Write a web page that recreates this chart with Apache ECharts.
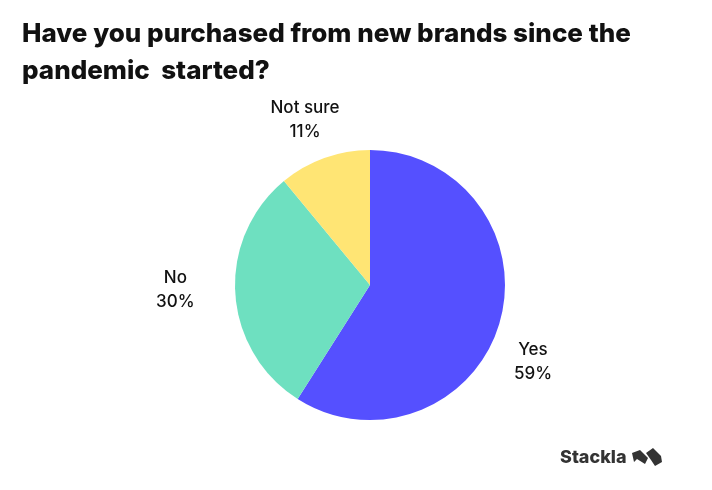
<!DOCTYPE html>
<html><head><meta charset="utf-8">
<script src="https://cdn.jsdelivr.net/npm/echarts@6/dist/echarts.min.js"></script>
<style>html,body{margin:0;padding:0;background:#fff}#c{width:712px;height:490px}</style>
</head><body><div id="c"></div>
<script>
const titleText = 'Have you purchased from new brands since the\npandemic  started?';
const categories = ['Yes', 'No', 'Not sure'];
const values = [59, 30, 11];
const colors = ['#5550FF', '#6EE0C0', '#FFE574'];
const labelOffsets = [[-12, 28], [-13, -6], [0, 1]];

const chart = echarts.init(document.getElementById('c'), null, {renderer: 'canvas'});
chart.setOption({
  backgroundColor: '#fff',
  animation: false,
  title: {
    text: titleText, left: 17, top: 11,
    textStyle: {fontFamily: 'Inter', fontWeight: 800, fontSize: 26, color: '#111', lineHeight: 37}
  },
  graphic: [
    {type: 'text', left: 560, top: 449, style: {text: 'Stackla', fontFamily: 'Inter', fontWeight: 800, fontSize: 18, fill: '#333'}},
    {type: 'polygon', shape: {points: [[632,453],[640,450],[648,458],[645,464],[637,459],[634,462]]}, style: {fill: '#333'}},
    {type: 'polygon', shape: {points: [[646,453],[653,448],[661,456],[662,462],[655,466],[651,460]]}, style: {fill: '#333'}}
  ],
  series: [{
    type: 'pie',
    center: [370, 285],
    radius: [0, 135],
    startAngle: 90,
    clockwise: true,
    avoidLabelOverlap: false,
    data: categories.map((c, i) => ({name: c, value: values[i], itemStyle: {color: colors[i]}})),
    label: {
      show: true, position: 'outside',
      formatter: p => p.name + '\n' + p.value + '%',
      fontFamily: 'Inter', fontWeight: 500, fontSize: 17, color: '#111', lineHeight: 24
    },
    labelLine: {show: false, length: 42, length2: 0},
    labelLayout: p => ({align: 'center', verticalAlign: 'middle', dx: labelOffsets[p.dataIndex][0], dy: labelOffsets[p.dataIndex][1]}),
    emphasis: {disabled: true}
  }]
});
</script></body></html>
